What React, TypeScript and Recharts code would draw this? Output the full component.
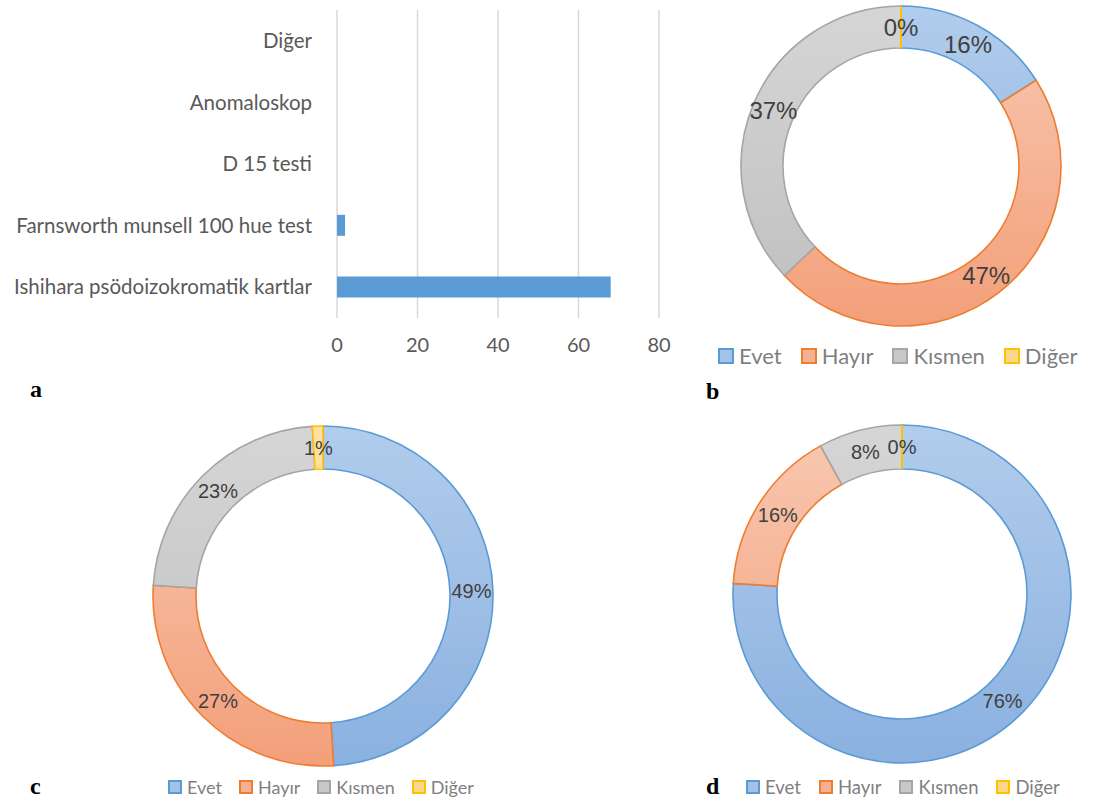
import React from 'react';
import {
  BarChart,
  Bar,
  XAxis,
  YAxis,
  CartesianGrid,
  PieChart,
  Pie,
  Cell,
  Legend,
} from 'recharts';

// panel a: screening tests used
const testNames = [
  'Diğer',
  'Anomaloskop',
  'D 15 testi',
  'Farnsworth munsell 100 hue test',
  'Ishihara psödoizokromatik kartlar',
];
const testCounts = [0, 0, 0, 2, 68];
const countTicks = [0, 20, 40, 60, 80];

// panels b, c, d: answer shares (%)
const answerNames = ['Evet', 'Hayır', 'Kısmen', 'Diğer'];
const answersB = [16, 47, 37, 0];
const answersC = [49, 27, 23, 1];
const answersD = [76, 16, 8, 0];

const strokeColors = ['#5b9bd5', '#ed7d31', '#a5a5a5', '#ffc000'];
const gradTop = ['#b2cdec', '#f8c9b3', '#d6d6d6', '#fde2a4'];
const gradBottom = ['#8bb1e0', '#f3a07a', '#bfbfbf', '#fcd27a'];
const swatchFill = ['#a4c2e8', '#f4b090', '#c8c8c8', '#fdd88a'];

const RAD = Math.PI / 180;
const calibriLike = 'Lato, "Open Sans", sans-serif';
const arialLike = '"Liberation Sans", Arial, sans-serif';

const barData = testNames.map((name, i) => ({ name, count: testCounts[i] }));

const toPie = (values: number[]) => answerNames.map((name, i) => ({ name, value: values[i] }));

const makeLabel = (fontSize: number) => (props: any) => {
  const { cx, cy, midAngle, innerRadius, outerRadius, startAngle, index } = props;
  const value = props.value ?? props.payload?.value;
  const r = (innerRadius + outerRadius) / 2;
  const x = cx + r * Math.cos(-midAngle * RAD);
  const y = cy + r * Math.sin(-midAngle * RAD);
  const a = -startAngle * RAD;
  return (
    <g key={`lbl-${index}`}>
      {value === 0 && (
        <line
          x1={cx + innerRadius * Math.cos(a)}
          y1={cy + innerRadius * Math.sin(a)}
          x2={cx + outerRadius * Math.cos(a)}
          y2={cy + outerRadius * Math.sin(a)}
          stroke={strokeColors[index]}
          strokeWidth={2}
        />
      )}
      <text
        x={x}
        y={y}
        textAnchor="middle"
        dominantBaseline="central"
        fill="#404040"
        fontSize={fontSize}
        fontFamily={arialLike}
      >
        {`${value}%`}
      </text>
    </g>
  );
};

const makeLegend = (fontSize: number, box: number, gap: number) => () => (
  <div style={{ display: 'flex', alignItems: 'center', gap, fontFamily: calibriLike, fontSize, color: '#7f7f7f' }}>
    {answerNames.map((name, i) => (
      <div key={name} style={{ display: 'flex', alignItems: 'center' }}>
        <span
          style={{
            display: 'inline-block',
            width: box,
            height: box,
            boxSizing: 'border-box',
            background: swatchFill[i],
            border: `2px solid ${strokeColors[i]}`,
            marginRight: 5,
          }}
        />
        {name}
      </div>
    ))}
  </div>
);

interface DonutProps {
  id: string;
  values: number[];
  left: number;
  top: number;
  width: number;
  height: number;
  cx: number;
  cy: number;
  inner: number;
  outer: number;
  labelSize: number;
  legendLeft: number;
  legendTop: number;
  legendSize: number;
  legendBox: number;
  legendGap: number;
}

const Donut: React.FC<DonutProps> = (p) => (
  <div style={{ position: 'absolute', left: p.left, top: p.top }}>
    <PieChart width={p.width} height={p.height}>
      <defs>
        {answerNames.map((_, i) => (
          <linearGradient
            key={i}
            id={`${p.id}-g${i}`}
            gradientUnits="userSpaceOnUse"
            x1={0}
            y1={p.cy - p.outer}
            x2={0}
            y2={p.cy + p.outer}
          >
            <stop offset="0%" stopColor={gradTop[i]} />
            <stop offset="100%" stopColor={gradBottom[i]} />
          </linearGradient>
        ))}
      </defs>
      <Pie
        data={toPie(p.values)}
        dataKey="value"
        nameKey="name"
        cx={p.cx}
        cy={p.cy}
        innerRadius={p.inner}
        outerRadius={p.outer}
        startAngle={90}
        endAngle={-270}
        label={makeLabel(p.labelSize)}
        labelLine={false}
        isAnimationActive={false}
      >
        {answerNames.map((_, i) => (
          <Cell key={i} fill={`url(#${p.id}-g${i})`} stroke={strokeColors[i]} strokeWidth={1.6} />
        ))}
      </Pie>
      <Legend
        content={makeLegend(p.legendSize, p.legendBox, p.legendGap)}
        wrapperStyle={{ position: 'absolute', left: p.legendLeft, top: p.legendTop, width: 'auto' }}
      />
    </PieChart>
  </div>
);

const panelLetter = (text: string, left: number, top: number) => (
  <div
    style={{
      position: 'absolute',
      left,
      top,
      fontFamily: '"Liberation Serif", "Times New Roman", serif',
      fontWeight: 'bold',
      fontSize: 24,
      lineHeight: '24px',
      color: '#000',
    }}
  >
    {text}
  </div>
);

export default function App() {
  return (
    <div
      style={{
        position: 'absolute',
        left: 0,
        top: 0,
        width: 1095,
        height: 805,
        background: '#fff',
        overflow: 'hidden',
      }}
    >
      <div style={{ position: 'absolute', left: 0, top: 0 }}>
        <BarChart
          width={700}
          height={365}
          data={barData}
          layout="vertical"
          margin={{ top: 10, right: 41, bottom: 0, left: 0 }}
        >
          <CartesianGrid horizontal={false} stroke="#d9d9d9" strokeWidth={1.5} />
          <XAxis
            type="number"
            domain={[0, 80]}
            ticks={countTicks}
            axisLine={false}
            tickLine={false}
            tickSize={0}
            tickMargin={20}
            height={47}
            tick={{ fill: '#595959', fontSize: 20, fontFamily: calibriLike }}
          />
          <YAxis
            type="category"
            dataKey="name"
            width={337}
            axisLine={false}
            tickLine={false}
            tickSize={0}
            tickMargin={25}
            interval={0}
            tick={{ fill: '#595959', fontSize: 20.5, fontFamily: calibriLike }}
          />
          <Bar dataKey="count" fill="#5b9bd5" barSize={21} isAnimationActive={false} />
        </BarChart>
      </div>

      <Donut
        id="b"
        values={answersB}
        left={700}
        top={0}
        width={395}
        height={375}
        cx={196}
        cy={161}
        inner={118}
        outer={160}
        labelSize={24}
        legendLeft={18}
        legendTop={342}
        legendSize={22}
        legendBox={16}
        legendGap={19}
      />
      <Donut
        id="c"
        values={answersC}
        left={100}
        top={410}
        width={450}
        height={395}
        cx={218}
        cy={181}
        inner={127}
        outer={170}
        labelSize={20}
        legendLeft={68}
        legendTop={366}
        legendSize={18}
        legendBox={14}
        legendGap={17}
      />
      <Donut
        id="d"
        values={answersD}
        left={700}
        top={410}
        width={395}
        height={395}
        cx={197}
        cy={179}
        inner={125}
        outer={169}
        labelSize={20}
        legendLeft={46}
        legendTop={366}
        legendSize={18.5}
        legendBox={14}
        legendGap={18}
      />

      {panelLetter('a', 30, 377)}
      {panelLetter('b', 706, 379)}
      {panelLetter('c', 30, 774)}
      {panelLetter('d', 706, 774)}
    </div>
  );
}
